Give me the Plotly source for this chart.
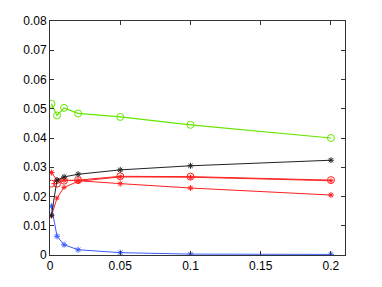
import plotly.graph_objects as go

x = [0.001, 0.005, 0.01, 0.02, 0.05, 0.1, 0.2]

green_circle = [0.0517, 0.0477, 0.0503, 0.0484, 0.0472, 0.0445, 0.0400]
black_star = [0.0136, 0.0256, 0.0267, 0.0276, 0.0291, 0.0305, 0.0324]
red_circle = [0.0244, 0.0244, 0.0254, 0.0256, 0.0269, 0.0268, 0.0256]
red_star = [0.0282, 0.0256, 0.0256, 0.0254, 0.0244, 0.0229, 0.0205]
red_rise = [0.0133, 0.0195, 0.0231, 0.0252, 0.0267, 0.0266, 0.0254]
blue_star = [0.0167, 0.0064, 0.0035, 0.0018, 0.0008, 0.0003, 0.0002]

x_ticks = [0, 0.05, 0.1, 0.15, 0.2]
x_tick_labels = ["0", "0.05", "0.1", "0.15", "0.2"]
y_ticks = [0, 0.01, 0.02, 0.03, 0.04, 0.05, 0.06, 0.07, 0.08]
y_tick_labels = ["0", "0.01", "0.02", "0.03", "0.04", "0.05", "0.06", "0.07", "0.08"]

GREEN = "#66e600"
BLACK = "#222222"
RED = "#ff2020"
BLUE = "#3a5cff"

fig = go.Figure()

def add(y, color, symbol, size, lw=1):
    fig.add_trace(go.Scatter(
        x=x, y=y, mode="lines+markers",
        line=dict(color=color, width=lw),
        marker=dict(symbol=symbol, size=size, color=color,
                    line=dict(color=color, width=1)),
        showlegend=False, hoverinfo="skip"))

add(red_rise, RED, "asterisk-open", 4)
add(red_star, RED, "asterisk-open", 5)
add(red_circle, RED, "circle-open", 7)
add(blue_star, BLUE, "asterisk-open", 5)
add(black_star, BLACK, "asterisk-open", 5)
add(green_circle, GREEN, "circle-open", 7, lw=1.2)

axis_common = dict(
    showline=True, linecolor="#333333", linewidth=1, mirror="ticks",
    ticks="inside", ticklen=4, tickcolor="#333333",
    showgrid=False, zeroline=False,
    tickfont=dict(family="Liberation Sans, Arial, sans-serif", size=12, color="#000000"),
)

fig.update_xaxes(range=[0, 0.21], tickvals=x_ticks, ticktext=x_tick_labels, **axis_common)
fig.update_yaxes(range=[0, 0.08], tickvals=y_ticks, ticktext=y_tick_labels, **axis_common)

fig.update_layout(
    width=382, height=287,
    margin=dict(l=50, r=37, t=21, b=32),
    paper_bgcolor="white", plot_bgcolor="white",
)

fig.write_html("out.html", config={"displayModeBar": False, "staticPlot": True},
               post_script="document.body.style.margin='0';")
